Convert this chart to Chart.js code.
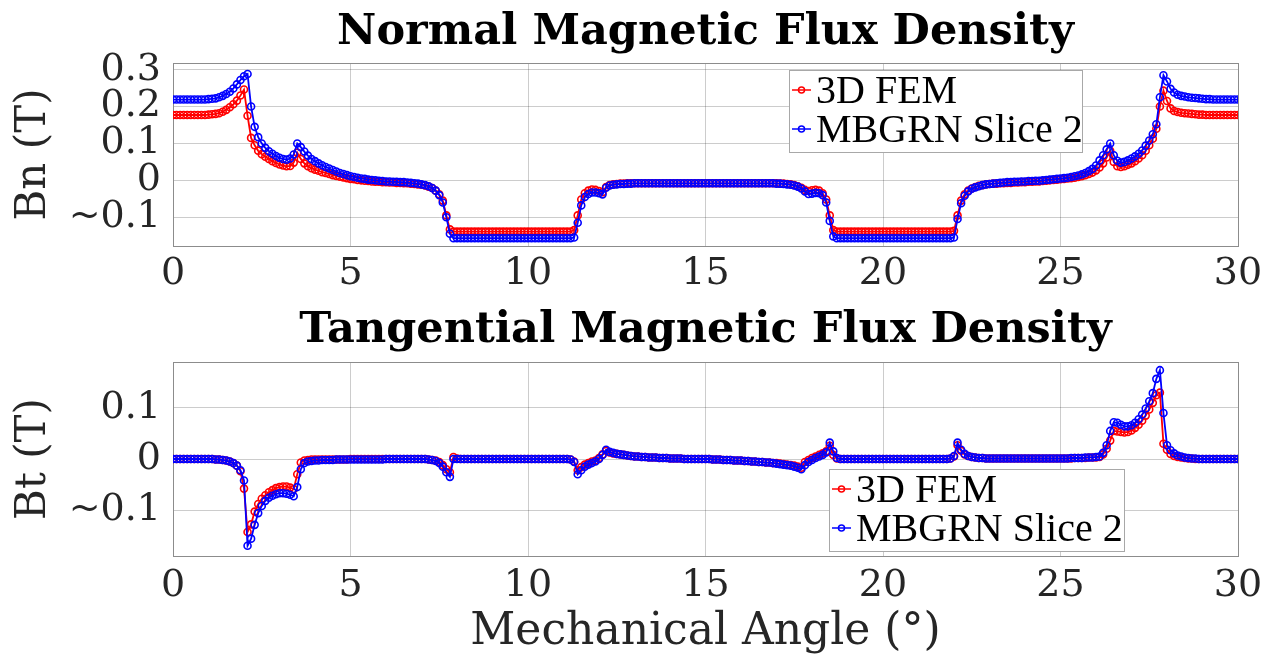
<!DOCTYPE html>
<html>
<head>
<meta charset="utf-8">
<script src="https://cdn.jsdelivr.net/npm/chart.js@4.4.0/dist/chart.umd.min.js"></script>
<style>
  html, body { margin: 0; padding: 0; background: #fff; }
  #wrap { position: relative; width: 1284px; height: 664px; }
  .panel { position: absolute; left: 0; width: 1284px; }
  #p1 { top: 0; height: 300px; }
  #p2 { top: 300px; height: 364px; }
</style>
</head>
<body>
<div id="wrap">
  <div class="panel" id="p1"><canvas id="bnChart"></canvas></div>
  <div class="panel" id="p2"><canvas id="btChart"></canvas></div>
</div>
<script>
/* =====================
   data (0.1 deg step)
===================== */
const angle = [
  0.0,0.1,0.2,0.3,0.4,0.5,0.6,0.7,0.8,0.9,
  1.0,1.1,1.2,1.3,1.4,1.5,1.6,1.7,1.8,1.9,
  2.0,2.1,2.2,2.3,2.4,2.5,2.6,2.7,2.8,2.9,
  3.0,3.1,3.2,3.3,3.4,3.5,3.6,3.7,3.8,3.9,
  4.0,4.1,4.2,4.3,4.4,4.5,4.6,4.7,4.8,4.9,
  5.0,5.1,5.2,5.3,5.4,5.5,5.6,5.7,5.8,5.9,
  6.0,6.1,6.2,6.3,6.4,6.5,6.6,6.7,6.8,6.9,
  7.0,7.1,7.2,7.3,7.4,7.5,7.6,7.7,7.8,7.9,
  8.0,8.1,8.2,8.3,8.4,8.5,8.6,8.7,8.8,8.9,
  9.0,9.1,9.2,9.3,9.4,9.5,9.6,9.7,9.8,9.9,
  10.0,10.1,10.2,10.3,10.4,10.5,10.6,10.7,10.8,10.9,
  11.0,11.1,11.2,11.3,11.4,11.5,11.6,11.7,11.8,11.9,
  12.0,12.1,12.2,12.3,12.4,12.5,12.6,12.7,12.8,12.9,
  13.0,13.1,13.2,13.3,13.4,13.5,13.6,13.7,13.8,13.9,
  14.0,14.1,14.2,14.3,14.4,14.5,14.6,14.7,14.8,14.9,
  15.0,15.1,15.2,15.3,15.4,15.5,15.6,15.7,15.8,15.9,
  16.0,16.1,16.2,16.3,16.4,16.5,16.6,16.7,16.8,16.9,
  17.0,17.1,17.2,17.3,17.4,17.5,17.6,17.7,17.8,17.9,
  18.0,18.1,18.2,18.3,18.4,18.5,18.6,18.7,18.8,18.9,
  19.0,19.1,19.2,19.3,19.4,19.5,19.6,19.7,19.8,19.9,
  20.0,20.1,20.2,20.3,20.4,20.5,20.6,20.7,20.8,20.9,
  21.0,21.1,21.2,21.3,21.4,21.5,21.6,21.7,21.8,21.9,
  22.0,22.1,22.2,22.3,22.4,22.5,22.6,22.7,22.8,22.9,
  23.0,23.1,23.2,23.3,23.4,23.5,23.6,23.7,23.8,23.9,
  24.0,24.1,24.2,24.3,24.4,24.5,24.6,24.7,24.8,24.9,
  25.0,25.1,25.2,25.3,25.4,25.5,25.6,25.7,25.8,25.9,
  26.0,26.1,26.2,26.3,26.4,26.5,26.6,26.7,26.8,26.9,
  27.0,27.1,27.2,27.3,27.4,27.5,27.6,27.7,27.8,27.9,
  28.0,28.1,28.2,28.3,28.4,28.5,28.6,28.7,28.8,28.9,
  29.0,29.1,29.2,29.3,29.4,29.5,29.6,29.7,29.8,29.9,
  30.0
];

// Normal flux density, 3D FEM (red)
const bnFem = [
  0.177,0.177,0.177,0.177,0.177,0.177,0.177,0.177,0.177,0.177,
  0.178,0.179,0.180,0.182,0.186,0.191,0.198,0.206,0.216,0.230,
  0.246,0.175,0.115,0.095,0.080,0.071,0.064,0.058,0.052,0.047,
  0.043,0.040,0.038,0.039,0.048,0.075,0.058,0.046,0.038,0.033,
  0.029,0.026,0.022,0.020,0.017,0.014,0.012,0.010,0.008,0.006,
  0.004,0.003,0.001,0.000,-0.001,-0.002,-0.003,-0.004,-0.004,-0.005,
  -0.005,-0.006,-0.006,-0.007,-0.007,-0.008,-0.008,-0.009,-0.010,-0.011,
  -0.012,-0.014,-0.017,-0.021,-0.028,-0.038,-0.055,-0.095,-0.133,-0.139,
  -0.139,-0.139,-0.139,-0.139,-0.139,-0.139,-0.139,-0.139,-0.139,-0.139,
  -0.139,-0.139,-0.139,-0.139,-0.139,-0.139,-0.139,-0.139,-0.139,-0.139,
  -0.139,-0.139,-0.139,-0.139,-0.139,-0.139,-0.139,-0.139,-0.139,-0.139,
  -0.139,-0.139,-0.139,-0.135,-0.095,-0.052,-0.035,-0.028,-0.025,-0.026,
  -0.029,-0.032,-0.018,-0.013,-0.011,-0.010,-0.009,-0.009,-0.008,-0.008,
  -0.008,-0.008,-0.008,-0.008,-0.008,-0.008,-0.008,-0.008,-0.008,-0.008,
  -0.008,-0.008,-0.008,-0.008,-0.008,-0.008,-0.008,-0.008,-0.008,-0.008,
  -0.008,-0.008,-0.008,-0.008,-0.008,-0.008,-0.008,-0.008,-0.008,-0.008,
  -0.008,-0.008,-0.008,-0.008,-0.008,-0.008,-0.008,-0.008,-0.008,-0.008,
  -0.008,-0.009,-0.009,-0.010,-0.011,-0.013,-0.016,-0.020,-0.026,-0.029,
  -0.027,-0.026,-0.028,-0.035,-0.052,-0.095,-0.135,-0.139,-0.139,-0.139,
  -0.139,-0.139,-0.139,-0.139,-0.139,-0.139,-0.139,-0.139,-0.139,-0.139,
  -0.139,-0.139,-0.139,-0.139,-0.139,-0.139,-0.139,-0.139,-0.139,-0.139,
  -0.139,-0.139,-0.139,-0.139,-0.139,-0.139,-0.139,-0.139,-0.139,-0.139,
  -0.137,-0.095,-0.055,-0.038,-0.028,-0.022,-0.018,-0.015,-0.013,-0.011,
  -0.010,-0.009,-0.009,-0.008,-0.008,-0.007,-0.007,-0.006,-0.006,-0.005,
  -0.005,-0.004,-0.004,-0.003,-0.003,-0.002,-0.001,0.000,0.001,0.002,
  0.003,0.004,0.005,0.006,0.007,0.009,0.011,0.014,0.017,0.021,
  0.027,0.035,0.046,0.062,0.080,0.050,0.038,0.036,0.038,0.042,
  0.046,0.052,0.059,0.068,0.080,0.095,0.113,0.140,0.200,0.243,
  0.215,0.195,0.188,0.185,0.183,0.182,0.181,0.180,0.179,0.178,
  0.178,0.177,0.177,0.177,0.177,0.177,0.177,0.177,0.177,0.177,
  0.177
];

// Normal flux density, MBGRN slice 2 (blue)
const bnMbgrn = [
  0.219,0.219,0.219,0.219,0.219,0.219,0.219,0.219,0.219,0.219,
  0.220,0.221,0.222,0.225,0.229,0.234,0.240,0.249,0.260,0.272,
  0.282,0.288,0.200,0.145,0.117,0.100,0.088,0.079,0.072,0.066,
  0.061,0.058,0.056,0.059,0.070,0.100,0.090,0.078,0.067,0.058,
  0.052,0.046,0.041,0.036,0.032,0.028,0.024,0.020,0.017,0.014,
  0.011,0.009,0.007,0.005,0.004,0.002,0.001,0.000,-0.001,-0.002,
  -0.003,-0.003,-0.004,-0.004,-0.005,-0.005,-0.006,-0.007,-0.008,-0.009,
  -0.011,-0.013,-0.016,-0.021,-0.028,-0.040,-0.060,-0.100,-0.145,-0.157,
  -0.157,-0.157,-0.157,-0.157,-0.157,-0.157,-0.157,-0.157,-0.157,-0.157,
  -0.157,-0.157,-0.157,-0.157,-0.157,-0.157,-0.157,-0.157,-0.157,-0.157,
  -0.157,-0.157,-0.157,-0.157,-0.157,-0.157,-0.157,-0.157,-0.157,-0.157,
  -0.157,-0.157,-0.157,-0.155,-0.115,-0.068,-0.045,-0.037,-0.033,-0.033,
  -0.035,-0.038,-0.020,-0.014,-0.012,-0.011,-0.010,-0.010,-0.009,-0.009,
  -0.008,-0.008,-0.008,-0.008,-0.008,-0.008,-0.008,-0.008,-0.008,-0.008,
  -0.008,-0.008,-0.008,-0.008,-0.008,-0.008,-0.008,-0.008,-0.008,-0.008,
  -0.008,-0.008,-0.008,-0.008,-0.008,-0.008,-0.008,-0.008,-0.008,-0.008,
  -0.008,-0.008,-0.008,-0.008,-0.008,-0.008,-0.008,-0.008,-0.008,-0.008,
  -0.009,-0.009,-0.010,-0.011,-0.012,-0.014,-0.017,-0.022,-0.030,-0.037,
  -0.036,-0.034,-0.035,-0.040,-0.060,-0.110,-0.152,-0.157,-0.157,-0.157,
  -0.157,-0.157,-0.157,-0.157,-0.157,-0.157,-0.157,-0.157,-0.157,-0.157,
  -0.157,-0.157,-0.157,-0.157,-0.157,-0.157,-0.157,-0.157,-0.157,-0.157,
  -0.157,-0.157,-0.157,-0.157,-0.157,-0.157,-0.157,-0.157,-0.157,-0.157,
  -0.155,-0.105,-0.062,-0.042,-0.030,-0.023,-0.019,-0.016,-0.013,-0.011,
  -0.010,-0.009,-0.008,-0.007,-0.006,-0.005,-0.005,-0.004,-0.004,-0.003,
  -0.003,-0.002,-0.002,-0.001,-0.001,0.000,0.001,0.002,0.003,0.004,
  0.005,0.006,0.007,0.009,0.011,0.013,0.016,0.020,0.025,0.031,
  0.040,0.054,0.068,0.084,0.100,0.068,0.053,0.048,0.050,0.054,
  0.059,0.065,0.072,0.081,0.094,0.108,0.125,0.152,0.225,0.285,
  0.268,0.248,0.238,0.232,0.229,0.227,0.225,0.224,0.223,0.222,
  0.221,0.220,0.220,0.219,0.219,0.219,0.219,0.219,0.219,0.219,
  0.219
];

// Tangential flux density, 3D FEM (red)
const btFem = [
  0,0,0,0,0,0,0,0,0,0,
  0,0,-0.001,-0.001,-0.002,-0.003,-0.005,-0.008,-0.013,-0.024,
  -0.058,-0.143,-0.128,-0.103,-0.088,-0.078,-0.071,-0.065,-0.061,-0.057,
  -0.055,-0.054,-0.054,-0.056,-0.059,-0.030,-0.007,-0.003,-0.002,-0.001,
  -0.001,-0.001,-0.001,-0.001,-0.001,-0.001,-0.001,-0.001,-0.001,-0.001,
  0,0,0,0,0,0,0,0,0,0,
  0,0,0,0,0,0,0,0,0,0,
  0,0,-0.001,-0.002,-0.003,-0.006,-0.012,-0.020,-0.026,0.004,
  0.001,0,0,0,0,0,0,0,0,0,
  0,0,0,0,0,0,0,0,0,0,
  0,0,0,0,0,0,0,0,0,0,
  0,0,-0.001,-0.005,-0.022,-0.016,-0.011,-0.008,-0.005,-0.003,
  0.002,0.009,0.016,0.013,0.011,0.010,0.009,0.008,0.007,0.006,
  0.005,0.005,0.004,0.004,0.003,0.003,0.003,0.002,0.002,0.002,
  0.001,0.001,0.001,0.001,0,0,0,0,0,0,
  0,0,-0.001,-0.001,-0.001,-0.002,-0.002,-0.002,-0.003,-0.003,
  -0.003,-0.004,-0.004,-0.005,-0.005,-0.006,-0.006,-0.007,-0.007,-0.008,
  -0.008,-0.009,-0.010,-0.011,-0.012,-0.013,-0.015,-0.017,-0.006,-0.002,
  0.002,0.005,0.008,0.011,0.015,0.026,0.008,0.001,0,0,
  0,0,0,0,0,0,0,0,0,0,
  0,0,0,0,0,0,0,0,0,0,
  0,0,0,0,0,0,0,0,0,0.001,
  0.005,0.027,0.016,0.009,0.006,0.004,0.003,0.002,0.002,0.001,
  0.001,0.001,0.001,0.001,0.001,0.001,0.001,0.001,0.001,0.001,
  0.001,0.001,0.001,0.001,0.001,0.001,0.001,0.001,0.001,0.001,
  0.001,0.001,0.001,0.001,0.002,0.002,0.002,0.002,0.003,0.003,
  0.003,0.004,0.009,0.020,0.036,0.055,0.054,0.053,0.052,0.053,
  0.056,0.061,0.067,0.075,0.085,0.097,0.110,0.125,0.130,0.030,
  0.018,0.010,0.006,0.004,0.003,0.002,0.001,0.001,0,0,
  0,0,0,0,0,0,0,0,0,0,
  0
];

// Tangential flux density, MBGRN slice 2 (blue)
const btMbgrn = [
  0,0,0,0,0,0,0,0,0,0,
  0,0,-0.001,-0.001,-0.002,-0.003,-0.005,-0.008,-0.013,-0.022,
  -0.042,-0.170,-0.156,-0.129,-0.106,-0.092,-0.082,-0.076,-0.072,-0.069,
  -0.067,-0.067,-0.068,-0.070,-0.073,-0.055,-0.020,-0.008,-0.005,-0.004,
  -0.003,-0.003,-0.002,-0.002,-0.002,-0.002,-0.001,-0.001,-0.001,-0.001,
  -0.001,-0.001,-0.001,-0.001,-0.001,-0.001,-0.001,-0.001,-0.001,-0.001,
  0,0,0,0,0,0,0,0,0,0,
  0,0,-0.001,-0.002,-0.004,-0.008,-0.015,-0.026,-0.035,0,
  0,0,0,0,0,0,0,0,0,0,
  0,0,0,0,0,0,0,0,0,0,
  0,0,0,0,0,0,0,0,0,0,
  0,0,-0.001,-0.006,-0.030,-0.022,-0.015,-0.011,-0.008,-0.005,
  0,0.008,0.018,0.014,0.012,0.010,0.009,0.008,0.007,0.006,
  0.005,0.005,0.004,0.004,0.003,0.003,0.003,0.002,0.002,0.002,
  0.001,0.001,0.001,0.001,0,0,0,0,0,0,
  0,0,-0.001,-0.001,-0.001,-0.002,-0.002,-0.002,-0.003,-0.003,
  -0.003,-0.004,-0.004,-0.005,-0.005,-0.006,-0.006,-0.007,-0.007,-0.008,
  -0.009,-0.010,-0.011,-0.012,-0.013,-0.015,-0.017,-0.020,-0.012,-0.006,
  -0.002,0.002,0.005,0.008,0.013,0.032,0.015,0.002,0,0,
  0,0,0,0,0,0,0,0,0,0,
  0,0,0,0,0,0,0,0,0,0,
  0,0,0,0,0,0,0,0,0,0.001,
  0.006,0.032,0.018,0.010,0.006,0.004,0.003,0.002,0.002,0.001,
  0.001,0.001,0.001,0.001,0.001,0.001,0.001,0.001,0.001,0.001,
  0.001,0.001,0.001,0.001,0.001,0.001,0.001,0.001,0.001,0.001,
  0.001,0.001,0.001,0.002,0.002,0.002,0.002,0.003,0.003,0.003,
  0.004,0.005,0.012,0.027,0.055,0.072,0.071,0.067,0.064,0.064,
  0.066,0.071,0.078,0.087,0.099,0.113,0.129,0.157,0.174,0.090,
  0.027,0.017,0.011,0.007,0.005,0.003,0.002,0.001,0.001,0,
  0,0,0,0,0,0,0,0,0,0,
  0
];

const seriesNames = ['3D FEM', 'MBGRN Slice 2'];
const angleTicks = [0, 5, 10, 15, 20, 25, 30];
const bnTickVals = [-0.1, 0, 0.1, 0.2, 0.3];
const bnTickText = ['~0.1', '0', '0.1', '0.2', '0.3'];
const btTickVals = [-0.1, 0, 0.1];
const btTickText = ['~0.1', '0', '0.1'];

/* =====================
   plugins: axes box + legend box
===================== */
const axesBox = {
  id: 'axesBox',
  beforeDatasetsDraw(chart) {
    const a = chart.chartArea;
    const ctx = chart.ctx;
    ctx.save();
    ctx.strokeStyle = '#8c8c8c';
    ctx.lineWidth = 1;
    ctx.strokeRect(Math.round(a.left) + 0.5, Math.round(a.top) + 0.5,
      Math.round(a.right - a.left), Math.round(a.bottom - a.top));
    ctx.restore();
  }
};

const boxLegend = {
  id: 'boxLegend',
  afterDraw(chart, args, opts) {
    const ctx = chart.ctx;
    ctx.save();
    ctx.fillStyle = '#fff';
    ctx.fillRect(opts.x, opts.y, opts.w, opts.h);
    ctx.strokeStyle = '#a8a8a8';
    ctx.lineWidth = 1;
    ctx.strokeRect(opts.x + 0.5, opts.y + 0.5, opts.w, opts.h);
    ctx.font = '40px "Liberation Serif"';
    ctx.textBaseline = 'middle';
    chart.data.datasets.forEach((ds, i) => {
      const cy = opts.y + opts.first + i * opts.gap;
      ctx.strokeStyle = ds.borderColor;
      ctx.lineWidth = 1.5;
      ctx.beginPath();
      ctx.moveTo(opts.x + 3, cy);
      ctx.lineTo(opts.x + 22, cy);
      ctx.stroke();
      ctx.beginPath();
      ctx.arc(opts.x + 12.5, cy, 3, 0, Math.PI * 2);
      ctx.stroke();
      ctx.fillStyle = '#000';
      ctx.fillText(ds.label, opts.x + 27, cy + 2);
    });
    ctx.restore();
  }
};

/* =====================
   chart builder
===================== */
function toPoints(ys) {
  return angle.map((a, i) => ({ x: a, y: ys[i] }));
}

function makeDataset(label, ys, color, order) {
  return {
    label,
    data: toPoints(ys),
    borderColor: color,
    backgroundColor: color,
    borderWidth: 1.8,
    pointRadius: 3.5,
    pointHoverRadius: 3.5,
    pointBorderWidth: 1.6,
    pointBackgroundColor: 'rgba(0,0,0,0)',
    pointBorderColor: color,
    showLine: true,
    tension: 0,
    order
  };
}

const gridColor = 'rgba(0,0,0,0.2)';
const tickFont = { family: 'DejaVu Serif', size: 38, lineHeight: 1.2 };

function buildChart(canvasId, cfg) {
  return new Chart(document.getElementById(canvasId), {
    type: 'scatter',
    data: {
      datasets: [
        makeDataset(seriesNames[0], cfg.red, '#ff0000', 2),
        makeDataset(seriesNames[1], cfg.blue, '#0000ff', 1)
      ]
    },
    plugins: [axesBox, boxLegend],
    options: {
      responsive: true,
      maintainAspectRatio: false,
      animation: false,
      layout: { padding: { left: 0, right: 46, top: 0, bottom: 0 } },
      plugins: {
        legend: { display: false },
        tooltip: { enabled: false },
        title: {
          display: true,
          text: cfg.title,
          fullSize: false,
          color: '#000',
          font: { family: 'DejaVu Serif', weight: 'bold', size: 43, lineHeight: 1 },
          padding: cfg.titlePad
        },
        boxLegend: cfg.legend
      },
      scales: {
        x: {
          type: 'linear',
          min: 0,
          max: 30,
          afterBuildTicks: s => { s.ticks = angleTicks.map(v => ({ value: v })); },
          afterFit: s => { s.height = cfg.xHeight; },
          grid: { color: gridColor, drawTicks: false },
          border: { display: false },
          ticks: { color: '#262626', font: tickFont, padding: cfg.xTickPad, maxRotation: 0, autoSkip: false },
          title: {
            display: !!cfg.xTitle,
            text: cfg.xTitle || '',
            color: '#262626',
            font: { family: 'DejaVu Serif', size: 44, lineHeight: 1.2 },
            padding: { top: 0, bottom: 5 }
          }
        },
        y: {
          type: 'linear',
          min: cfg.yMin,
          max: cfg.yMax,
          afterBuildTicks: s => { s.ticks = cfg.tickVals.map(v => ({ value: v })); },
          afterFit: s => { s.width = 173; },
          grid: { color: gridColor, drawTicks: false },
          border: { display: false },
          ticks: {
            color: '#262626',
            font: tickFont,
            padding: 12,
            autoSkip: false,
            callback: v => {
              const i = cfg.tickVals.indexOf(v);
              return i < 0 ? '' : cfg.tickText[i];
            }
          },
          title: {
            display: true,
            text: cfg.yTitle,
            color: '#262626',
            font: { family: 'DejaVu Serif', size: 42, lineHeight: 1.2 },
            padding: { top: 9, bottom: 0 }
          }
        }
      }
    }
  });
}

buildChart('bnChart', {
  title: 'Normal Magnetic Flux Density',
  titlePad: { top: 11, bottom: 9 },
  red: bnFem,
  blue: bnMbgrn,
  yMin: -0.178,
  yMax: 0.318,
  tickVals: bnTickVals,
  tickText: bnTickText,
  yTitle: 'Bn (T)',
  xTitle: null,
  xHeight: 54,
  xTickPad: 5,
  legend: { x: 789, y: 70, w: 293, h: 82, first: 20, gap: 39 }
});

buildChart('btChart', {
  title: 'Tangential Magnetic Flux Density',
  titlePad: { top: 9, bottom: 10 },
  red: btFem,
  blue: btMbgrn,
  yMin: -0.19,
  yMax: 0.19,
  tickVals: btTickVals,
  tickText: btTickText,
  yTitle: 'Bt (T)',
  xTitle: 'Mechanical Angle (°)',
  xHeight: 108,
  xTickPad: 7,
  legend: { x: 829, y: 169, w: 295, h: 82, first: 20, gap: 39 }
});
</script>
</body>
</html>
